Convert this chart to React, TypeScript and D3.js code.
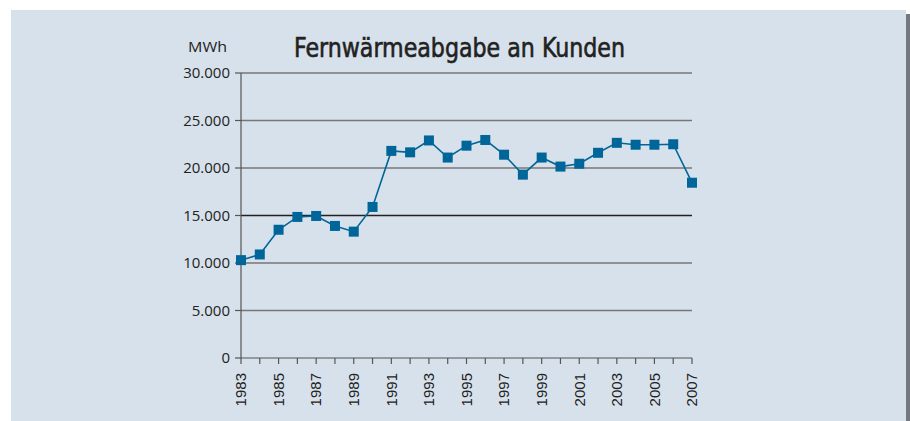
import React from 'react';
import * as d3 from 'd3';

const years = d3.range(1983, 2008);
const values = [
  10300, 10900, 13500, 14850, 14950, 13900, 13300, 15900, 21800, 21650, 22900, 21100, 22350,
  22950, 21400, 19300, 21100, 20150, 20450, 21600, 22650, 22450, 22450, 22500, 18450,
];
const yTicks = [0, 5000, 10000, 15000, 20000, 25000, 30000];
const yearLabels = years.filter((y) => (y - 1983) % 2 === 0);

const W = 910;
const H = 421;
const color = '#006699';

const App = () => {
  const x = d3.scaleLinear().domain([1983, 2007]).range([241, 692]);
  const y = d3.scaleLinear().domain([0, 30000]).range([358, 73]);
  const line = d3
    .line<number>()
    .x((_, i) => x(years[i]))
    .y((d) => y(d));
  const fmt = (v: number) => d3.format(',')(v).replace(/,/g, '.');

  return (
    <svg width={W} height={H} style={{ position: 'absolute', left: 0, top: 0 }}>
      <rect x={0} y={0} width={W} height={H} fill="#ffffff" />
      {/* shadow */}
      <rect x={906} y={14} width={4} height={H - 14} fill="#77777f" />
      <rect x={11} y={10} width={895} height={H - 10} fill="#d7e1eb" />

      <text
        x={294}
        y={57}
        fontFamily="'Liberation Sans Narrow', 'DejaVu Sans Condensed', sans-serif"
        fontSize={27}
        fill="#222"
        stroke="#222"
        strokeWidth={0.6}
        textLength={331}
        lengthAdjust="spacingAndGlyphs"
      >
        Fernwärmeabgabe an Kunden
      </text>
      <text
        x={188}
        y={52}
        fontFamily="'Open Sans', sans-serif"
        fontSize={14}
        fill="#222"
        textLength={39}
        lengthAdjust="spacingAndGlyphs"
      >
        MWh
      </text>

      {yTicks.map((t) => (
        <g key={t}>
          {t > 0 && (
            <line
              x1={x(1983)}
              x2={x(2007)}
              y1={y(t)}
              y2={y(t)}
              stroke={t === 15000 ? '#222' : '#777'}
              strokeWidth={1.5}
            />
          )}
          <line x1={235} x2={241} y1={y(t)} y2={y(t)} stroke="#555" strokeWidth={1.2} />
          <text
            x={230}
            y={y(t)}
            dy="0.35em"
            textAnchor="end"
            fontFamily="'Open Sans', sans-serif"
            fontSize={15}
            fill="#222"
          >
            {fmt(t)}
          </text>
        </g>
      ))}

      {/* axes */}
      <line x1={x(1983)} x2={x(1983)} y1={y(30000)} y2={y(0)} stroke="#555" strokeWidth={1.2} />
      <line x1={x(1983)} x2={x(2007)} y1={y(0)} y2={y(0)} stroke="#555" strokeWidth={1.2} />
      {years.map((yr) => (
        <line key={yr} x1={x(yr)} x2={x(yr)} y1={y(0)} y2={y(0) + 6} stroke="#555" strokeWidth={1.2} />
      ))}
      {yearLabels.map((yr) => (
        <text
          key={yr}
          transform={`translate(${x(yr)},${y(0) + 15}) rotate(-90)`}
          textAnchor="end"
          dy="0.35em"
          fontFamily="'Liberation Sans', Arial, sans-serif"
          fontSize={15}
          fill="#222"
        >
          {yr}
        </text>
      ))}

      <path d={line(values) || ''} fill="none" stroke={color} strokeWidth={1.6} />
      {values.map((v, i) => (
        <rect key={i} x={x(years[i]) - 5} y={y(v) - 5} width={10} height={10} fill={color} />
      ))}
    </svg>
  );
};

export default App;
